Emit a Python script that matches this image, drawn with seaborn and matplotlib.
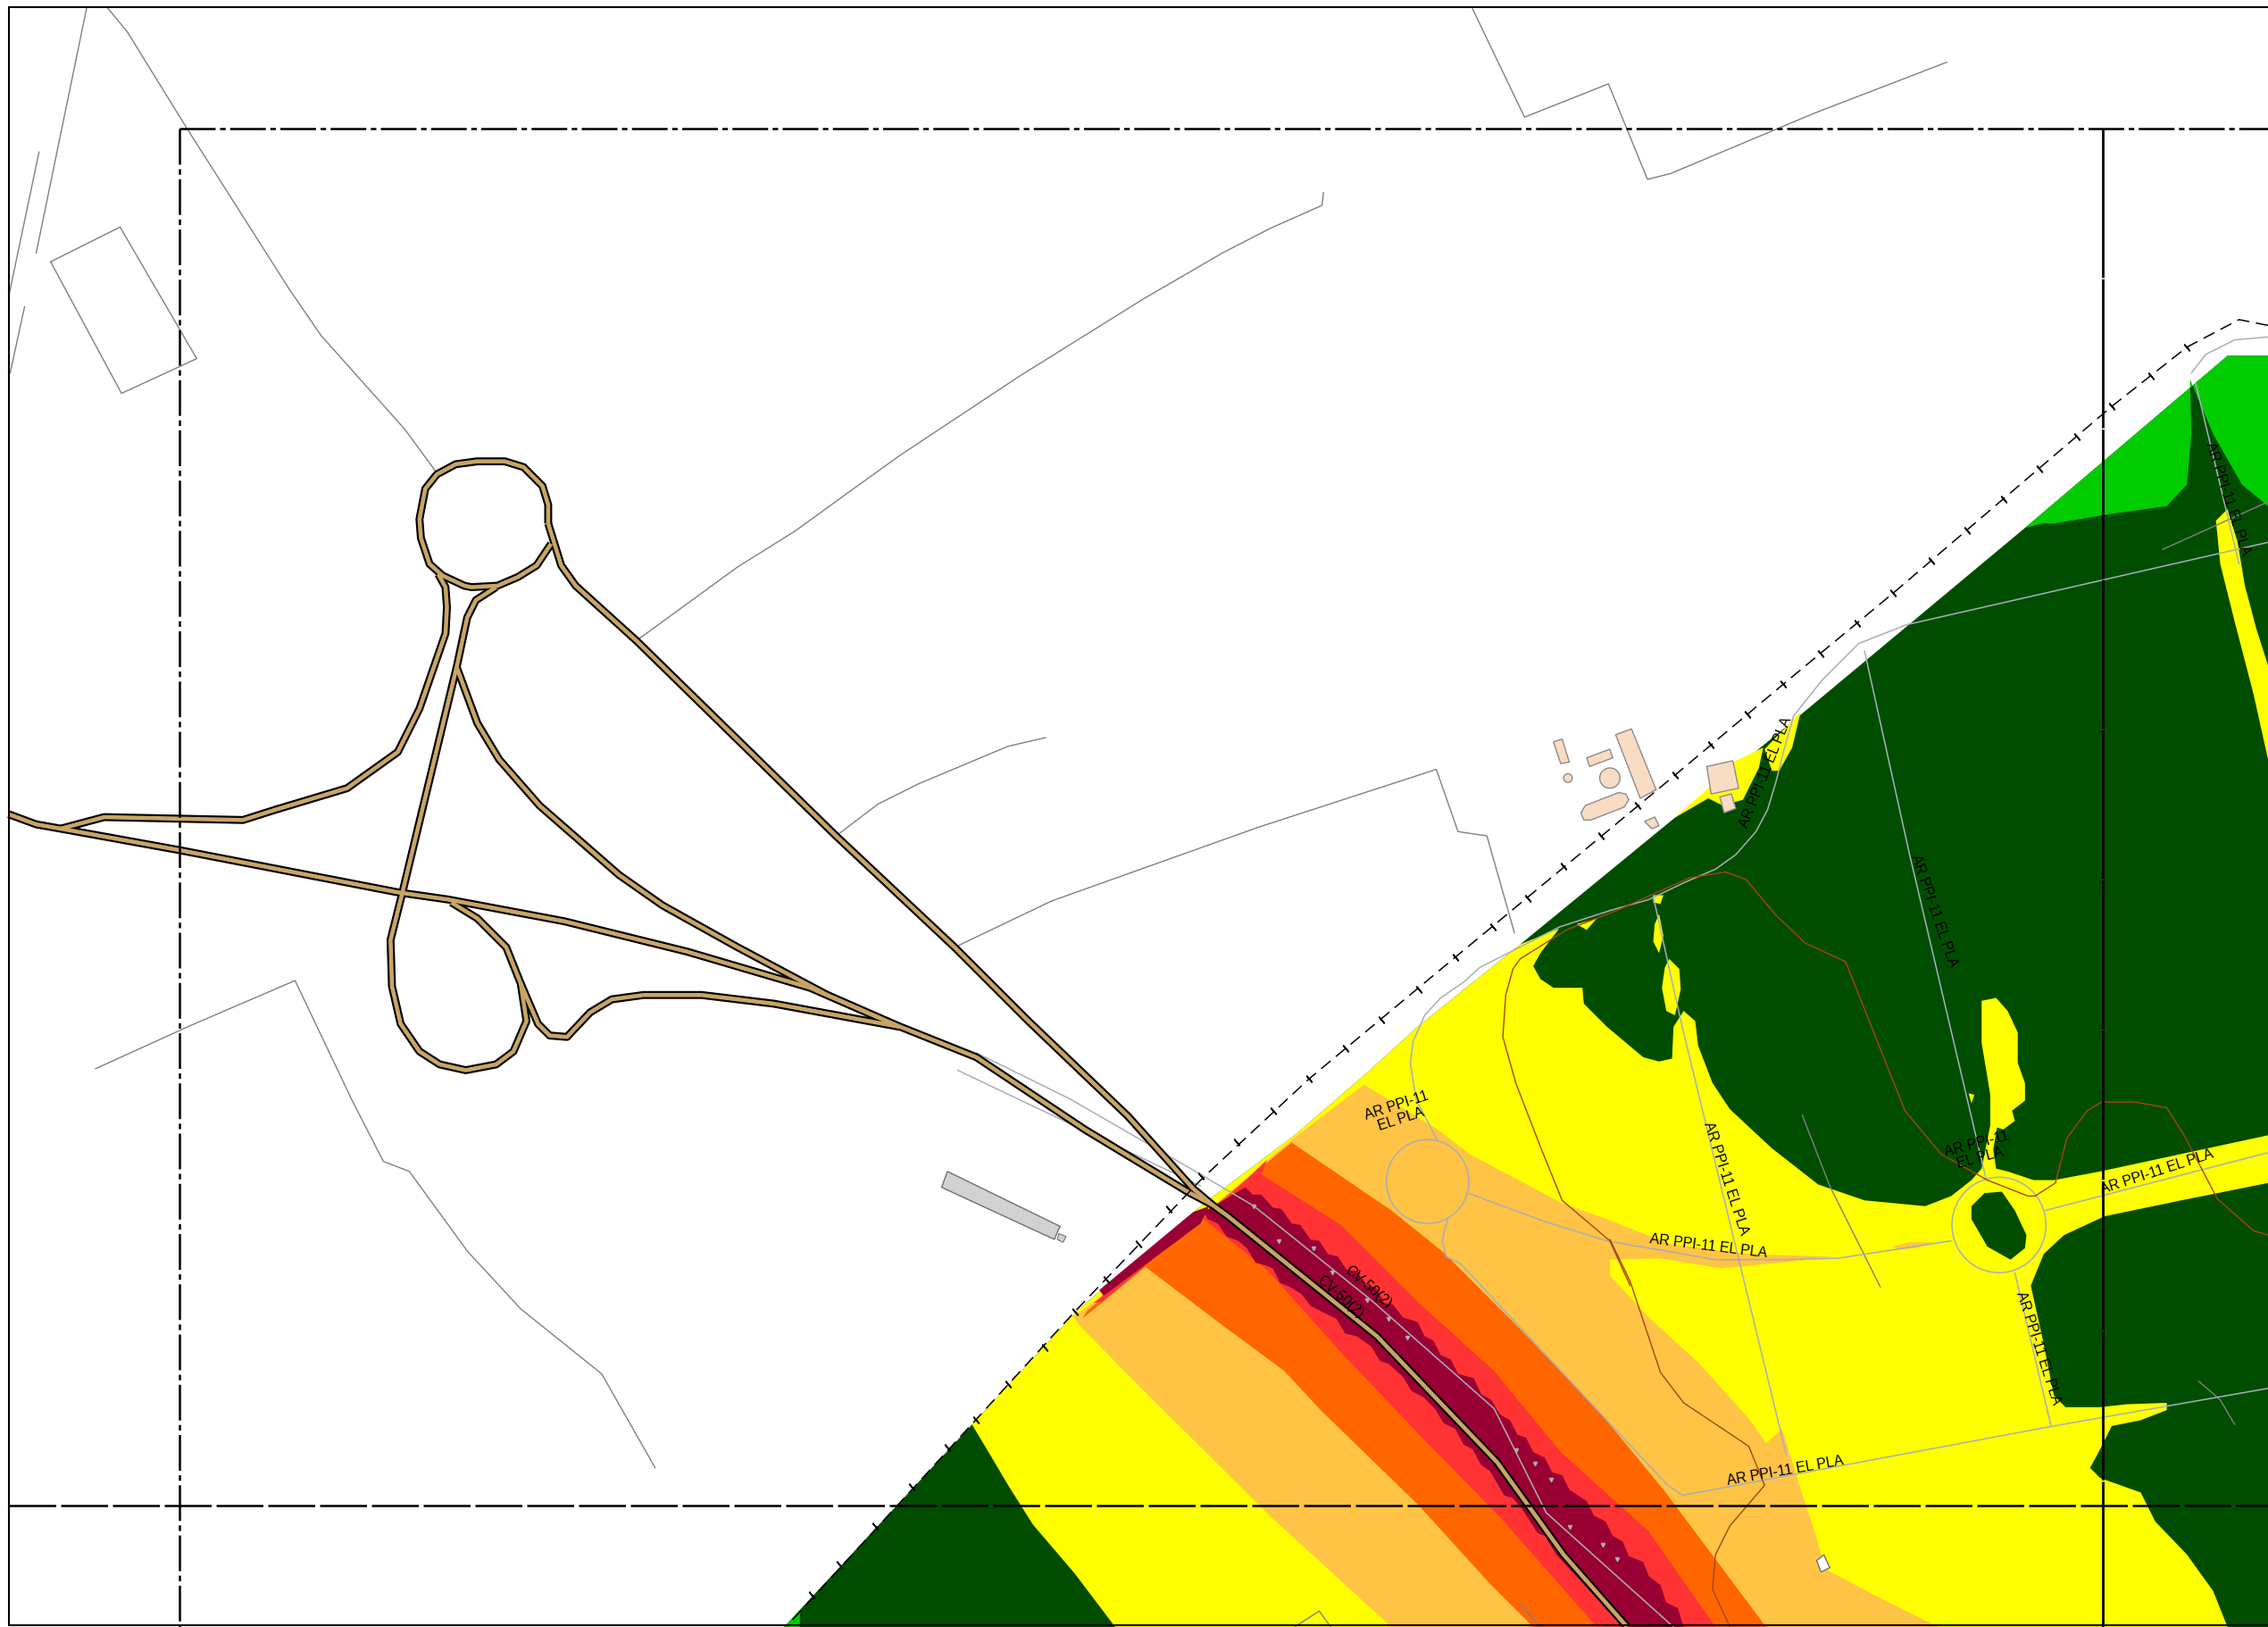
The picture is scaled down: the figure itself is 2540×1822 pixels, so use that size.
import matplotlib
matplotlib.use("Agg")
import matplotlib.pyplot as plt
from matplotlib.patches import Ellipse
import seaborn as sns

# all coordinates (1568 x 1125 sheet units)
dark_green_area = [(542, 1125), (672, 985), (746, 905), (835, 830), (895, 785), (946, 741), (980, 710), (1051, 653),
                   (1250, 490), (1400, 365), (1540, 246), (1568, 246), (1568, 1125)]
light_green_area = [(1400, 365), (1540, 246), (1568, 246), (1568, 350), (1550, 335), (1530, 300), (1514, 262),
                    (1515, 300), (1512, 335), (1498, 350), (1455, 356), (1420, 362), (1412, 362)]
light_green_corner = [(542, 1125), (553, 1114), (553, 1125)]
yellow_area = [(1051, 653), (1078, 642), (1065, 659), (1060, 668), (1065, 677), (1074, 683), (1094, 683), (1095, 694),
               (1111, 710), (1136, 731), (1147, 734), (1156, 732), (1157, 710), (1164, 699), (1172, 706), (1174, 723),
               (1184, 749), (1196, 767), (1225, 794), (1257, 819), (1289, 830), (1331, 834), (1349, 827), (1363, 816),
               (1370, 808), (1376, 778), (1381, 778), (1378, 795), (1380, 808), (1388, 810), (1406, 816), (1420, 816),
               (1452, 810), (1568, 785), (1568, 818), (1508, 830), (1455, 841), (1427, 854), (1413, 867), (1404, 889),
               (1412, 925), (1420, 965), (1428, 973), (1452, 973), (1470, 971), (1498, 970), (1498, 975), (1480, 982),
               (1460, 986), (1452, 1002), (1445, 1015), (1452, 1022), (1480, 1032), (1490, 1052), (1512, 1075),
               (1530, 1100), (1540, 1125), (771, 1125), (743, 1088), (714, 1054), (697, 1027), (684, 1005), (672, 985),
               (746, 905), (835, 830), (895, 785), (946, 741), (980, 710)]
roundabout_island = [(1363, 834), (1372, 825), (1384, 824), (1393, 837), (1401, 854), (1400, 863), (1390, 871),
                     (1374, 862), (1363, 843)]
yellow_patches = [
    [(1245, 492), (1239, 517), (1230, 533), (1225, 533), (1220, 518)],
    [(1157, 566), (1181, 545), (1200, 526), (1219, 517), (1216, 531), (1205, 553), (1191, 557), (1181, 552)],
    [(1143, 619), (1150, 619), (1148, 625), (1143, 624)],
    [(1147, 632), (1150, 647), (1147, 659), (1143, 651), (1144, 639)],
    [(1154, 663), (1161, 670), (1162, 684), (1158, 702), (1152, 699), (1149, 683), (1151, 669)],
    [(1104, 635), (1097, 643), (1090, 639)],
    [(1361, 756), (1365, 757), (1363, 763)],
    [(1380, 690), (1388, 699), (1395, 714), (1395, 735), (1400, 749), (1400, 761), (1391, 768), (1393, 775),
     (1385, 781), (1376, 778), (1376, 757), (1370, 721), (1370, 692)],
    [(1532, 360), (1540, 352), (1547, 375), (1552, 405), (1560, 435), (1568, 460), (1568, 525), (1558, 480),
     (1545, 430), (1535, 390)],
]
light_orange_area = [(943, 750), (994, 781), (1016, 798), (1048, 815), (1080, 832), (1111, 843), (1154, 860),
                     (1207, 867), (1267, 869), (1232, 873), (1190, 877), (1147, 870), (1113, 871), (1113, 882),
                     (1140, 911), (1175, 943), (1210, 982), (1221, 998), (1232, 988), (1245, 1030), (1255, 1060),
                     (1262, 1085), (1300, 1105), (1340, 1125), (962, 1125), (881, 1051), (785, 956), (746, 916),
                     (742, 910), (750, 905), (840, 833), (893, 788)]
light_orange_sliver = [(1308, 862), (1320, 859), (1336, 859), (1325, 863), (1312, 864)]
orange_area = [(893, 790), (962, 837), (998, 866), (1051, 919), (1104, 974), (1150, 1030), (1221, 1125), (1060, 1125),
               (1030, 1095), (981, 1041), (913, 975), (888, 948), (842, 914), (792, 876), (748, 912), (752, 906),
               (838, 835)]
red_area = [(876, 802), (872, 812), (927, 847), (980, 900), (1033, 948), (1079, 1004), (1140, 1059), (1186, 1125),
            (1104, 1125), (1037, 1049), (987, 998), (927, 935), (877, 879), (831, 842), (762, 900), (756, 901),
            (840, 836)]
dark_red_area = [(861, 821), (866, 826), (872, 826), (880, 835), (886, 836), (893, 846), (899, 847), (906, 857),
                 (912, 858), (918, 867), (925, 869), (931, 878), (938, 879), (945, 889), (951, 890), (957, 901),
                 (963, 902), (970, 911), (980, 914), (985, 924), (991, 927), (996, 937), (1003, 940), (1008, 950),
                 (1019, 953), (1024, 964), (1031, 968), (1037, 978), (1044, 982), (1049, 992), (1055, 994), (1060, 1004),
                 (1068, 1008), (1073, 1018), (1080, 1020), (1085, 1030), (1097, 1038), (1102, 1048), (1110, 1052),
                 (1115, 1062), (1122, 1066), (1126, 1076), (1136, 1080), (1140, 1090), (1148, 1096), (1152, 1108),
                 (1160, 1112), (1164, 1125), (1122, 1125), (1076, 1075), (1068, 1062), (1063, 1060), (1052, 1043),
                 (1046, 1036), (1040, 1034), (1030, 1017), (1024, 1013), (1018, 1002), (1012, 999), (1006, 988),
                 (998, 984), (992, 974), (984, 966), (976, 962), (970, 952), (960, 943), (954, 941), (948, 931),
                 (938, 924), (930, 922), (924, 912), (914, 907), (906, 903), (900, 895), (892, 890), (885, 887),
                 (880, 877), (875, 875), (868, 873), (862, 863), (856, 858), (848, 855), (842, 846), (835, 843),
                 (832, 838)]
dark_red_strip = [(836, 834), (825, 838), (760, 892), (763, 896), (830, 846)]

road_main = [(379, 362), (388, 391), (398, 405), (440, 443), (578, 578), (660, 655), (711, 706), (780, 772), (825, 822),
             (838, 833), (849, 841), (952, 924), (1035, 1011), (1081, 1075), (1125, 1125)]
road_ring = [(381, 376), (371, 391), (358, 399), (344, 405), (326, 406), (321, 405), (306, 398), (297, 390), (291, 372),
             (290, 359), (294, 338), (302, 328), (315, 321), (330, 319), (349, 319), (362, 323), (375, 336), (379, 349),
             (379, 362)]
road_west_ramp = [(303, 397), (308, 406), (309, 420), (308, 438), (290, 490), (275, 520), (240, 545), (190, 560),
                  (168, 567), (72, 565), (42, 573)]
road_loop = [(343, 406), (329, 415), (323, 427), (316, 460), (278, 618), (270, 650), (271, 682), (277, 708), (290, 727),
             (304, 736), (322, 740), (343, 736), (355, 727), (364, 706), (360, 680), (350, 655), (330, 635), (312, 624)]
road_inner = [(316, 462), (330, 500), (345, 525), (373, 557), (428, 605), (458, 626), (510, 655), (572, 688), (622, 710)]
road_west = [(6, 563), (25, 570), (42, 573), (125, 588), (275, 617), (310, 622), (390, 637), (475, 658), (560, 683),
             (620, 709), (675, 731), (750, 781), (821, 824), (838, 833)]
road_south_ramp = [(360, 680), (372, 708), (380, 716), (392, 717), (408, 700), (423, 691), (445, 688), (485, 688),
                   (535, 694), (622, 710)]

plot_lines = [
    [(60, 5), (25, 175)],
    [(27, 105), (6, 205)],
    [(17, 212), (7, 258)],
    [(35, 181), (83, 157), (136, 248), (84, 272), (35, 181)],
    [(74, 5), (88, 22), (130, 90), (200, 200), (222, 232), (280, 297), (302, 327)],
    [(440, 443), (510, 392), (550, 367), (590, 338), (622, 315), (705, 260), (790, 207), (845, 175), (878, 158),
     (914, 142), (915, 133)],
    [(1018, 6), (1054, 81), (1112, 58), (1139, 124), (1155, 120), (1255, 78), (1346, 43)],
    [(578, 578), (607, 556), (635, 542), (697, 516), (723, 510)],
    [(658, 656), (727, 623), (870, 572), (993, 532), (1008, 575), (1028, 578), (1047, 645)],
    [(66, 739), (132, 709), (204, 678), (243, 760), (265, 803), (283, 810), (323, 865), (360, 905), (416, 950),
     (453, 1015)],
    [(1246, 771), (1265, 820), (1300, 890)],
    [(1495, 380), (1568, 347)],
    [(1520, 955), (1535, 968), (1545, 985)],
    [(1051, 1109), (1065, 1125)],
    [(895, 1125), (912, 1114), (920, 1125)],
]
utility_lines = [
    [(662, 740), (725, 770), (830, 820)],
    [(675, 728), (740, 760), (830, 812), (867, 834), (948, 899), (1033, 974), (1069, 1046), (1157, 1125)],
    [(1318, 432), (1568, 375)],
    [(1289, 450), (1320, 590), (1373, 815)],
    [(1318, 432), (1285, 445), (1260, 470), (1240, 495), (1233, 520), (1228, 540), (1222, 560), (1214, 575), (1200, 591),
     (1186, 601), (1165, 610), (1140, 622), (1115, 629), (1078, 641), (1023, 669), (1012, 679), (996, 690), (985, 702),
     (977, 720), (975, 735), (979, 760), (994, 789)],
    [(1015, 825), (1069, 845), (1111, 858), (1186, 871), (1234, 871), (1271, 870), (1349, 858)],
    [(1414, 837), (1568, 797)],
    [(1143, 620), (1163, 710), (1235, 1006)],
    [(1568, 960), (1420, 986), (1163, 1034), (1152, 1026), (1010, 874), (1000, 869), (997, 858), (1001, 842)],
    [(1393, 880), (1418, 986)],
    [(1518, 265), (1548, 390)],
    [(1515, 258), (1525, 245), (1545, 235), (1568, 233)],
]
brown_lines = [
    [(1127, 889), (1113, 858), (1080, 830), (1065, 793), (1048, 749), (1039, 717), (1041, 688), (1046, 670), (1051, 663),
     (1083, 643), (1119, 629), (1168, 607), (1193, 603), (1207, 608), (1228, 633), (1248, 652), (1276, 665), (1317, 768),
     (1342, 798), (1374, 816), (1402, 827), (1407, 827), (1421, 818), (1429, 787), (1443, 768), (1453, 762), (1476, 762),
     (1498, 766), (1510, 785), (1533, 829), (1558, 851), (1568, 854)],
    [(1113, 857), (1127, 886), (1148, 949), (1164, 970), (1209, 1000), (1220, 1027), (1196, 1055), (1186, 1075),
     (1184, 1099), (1196, 1125)],
]
railway = [(548, 1120), (679, 977), (743, 907), (830, 816), (905, 746), (1006, 662), (1158, 536), (1233, 473),
           (1309, 410), (1385, 345), (1460, 281), (1512, 240), (1548, 221), (1568, 225)]
railway_ticks_x = [561, 580, 605, 630, 655, 675, 697, 722, 743, 765, 787, 808, 830, 855, 880, 905, 930, 955, 981, 1006,
                   1032, 1056, 1081, 1107, 1132, 1158, 1183, 1208, 1233, 1259, 1284, 1309, 1335, 1360, 1385, 1410, 1436,
                   1460, 1487, 1512]
railway_ticks_y = [1103, 1082, 1055, 1028, 1001, 982, 957, 932, 907, 885, 860, 836, 813, 790, 768, 746, 725, 705, 684,
                   662, 641, 621, 599, 578, 557, 536, 515, 494, 473, 452, 431, 410, 388, 367, 345, 324, 302, 281, 260,
                   240]
centre_marks_x = [867, 884, 908, 921, 945, 960, 973, 1048, 1061, 1072, 1085, 1108, 1118]
centre_marks_y = [834, 858, 863, 880, 899, 912, 925, 1003, 1012, 1023, 1056, 1068, 1078]

buildings = [
    [(1074, 513), (1080, 511), (1085, 527), (1079, 528)],
    [(1097, 524), (1113, 518), (1115, 524), (1099, 530)],
    [(1117, 508), (1128, 504), (1145, 546), (1134, 552)],
    [(1096, 557), (1119, 548), (1124, 549), (1126, 553), (1123, 558), (1100, 567), (1095, 567), (1093, 562)],
    [(1180, 530), (1198, 526), (1202, 545), (1183, 549)],
    [(1189, 551), (1197, 549), (1200, 559), (1192, 562)],
    [(1137, 568), (1144, 565), (1147, 571), (1142, 573)],
]
round_buildings = [(1113, 538, 14, 14), (1084, 538, 6, 6)]
grey_shed = [(655, 810), (733, 848), (731, 852), (729, 857), (651, 821)]
shed_tail = [(732, 853), (737, 855), (735, 859), (731, 857)]
white_hut = [(1256, 1079), (1261, 1075), (1265, 1084), (1259, 1087)]
roundabouts = [(987, 817, 57, 58), (1382, 847, 65, 66)]

labels = ["AR PPI-11 EL PLA"] * 8 + ["AR PPI-11\nEL PLA"] * 2 + ["CV-50(2)"] * 2
labels_x = [1181, 1234, 1193, 1337, 1221, 1409, 1491, 1540, 967, 1368, 946, 927]
labels_y = [862, 1017, 815, 630, 534, 932, 810, 345, 769, 796, 890, 897]
labels_rot = [-7, 10, -72, -71, 68, -72, 18, -72, 18, 15, -41, -41]

YELLOW = "#FFFF00"
DARK_GREEN = "#004D00"
LIGHT_GREEN = "#00CC00"
LIGHT_ORANGE = "#FFC445"
ORANGE = "#FF6600"
RED = "#FF3333"
DARK_RED = "#990033"
ROAD = "#C8A566"
GREY = "#808080"
UTILITY = "#A9AEB8"
BROWN = "#A8440F"

sns.set_theme(style="white")
plt.rcParams["font.family"] = ["Liberation Sans", "DejaVu Sans"]

fig = plt.figure(figsize=(25.4, 18.22), dpi=100)
ax = fig.add_axes([0, 0, 1, 1])


def area(points, color, **kw):
    ax.fill([p[0] for p in points], [p[1] for p in points], color=color, lw=0, **kw)


def line(points, color, lw, **kw):
    sns.lineplot(x=[p[0] for p in points], y=[p[1] for p in points], sort=False, estimator=None,
                 color=color, linewidth=lw, ax=ax, legend=False, **kw)


area(dark_green_area, DARK_GREEN)
area(light_green_area, LIGHT_GREEN)
area(light_green_corner, LIGHT_GREEN)
area(yellow_area, YELLOW)
area(roundabout_island, DARK_GREEN)
for p in yellow_patches:
    area(p, YELLOW)
area(light_orange_area, LIGHT_ORANGE)
area(light_orange_sliver, LIGHT_ORANGE)
area(orange_area, ORANGE)
area(red_area, RED)
area(dark_red_area, DARK_RED)
area(dark_red_strip, DARK_RED)

for p in plot_lines:
    line(p, GREY, 1.0)
for p in utility_lines:
    line(p, UTILITY, 1.1)
for p in brown_lines:
    line(p, BROWN, 1.0)
for x, y, w, h in roundabouts:
    ax.add_patch(Ellipse((x, y), w, h, fill=False, edgecolor=UTILITY, linewidth=1.1))
ax.plot(centre_marks_x, centre_marks_y, ls="none", marker="v", ms=3, color=UTILITY)

for p in buildings:
    ax.fill([q[0] for q in p], [q[1] for q in p], facecolor="#F8DCC4", edgecolor="#8C8C8C", lw=1.0)
for x, y, w, h in round_buildings:
    ax.add_patch(Ellipse((x, y), w, h, facecolor="#F8DCC4", edgecolor="#8C8C8C", linewidth=1.0))
ax.fill([q[0] for q in grey_shed], [q[1] for q in grey_shed], facecolor="#D2D2D2", edgecolor="#707070", lw=1.0)
ax.fill([q[0] for q in shed_tail], [q[1] for q in shed_tail], facecolor="#D2D2D2", edgecolor="#707070", lw=0.8)
ax.fill([q[0] for q in white_hut], [q[1] for q in white_hut], facecolor="#FFFFFF", edgecolor="#707070", lw=1.0)

# roads: thick black stroke, tan stroke on top
roads = [road_ring, road_west_ramp, road_loop, road_inner, road_south_ramp, road_west, road_main]
for p in roads:
    line(p, "black", 6.4, solid_joinstyle="round", solid_capstyle="butt")
for p in roads:
    line(p, ROAD, 3.3, solid_joinstyle="round", solid_capstyle="butt")

line(railway, "black", 1.1, linestyle=(0, (9, 5)))
ax.plot(railway_ticks_x, railway_ticks_y, ls="none", marker=(2, 2, 40), ms=7, mew=1.2, color="black")

# sheet frame and grid lines
line([(6, 5), (1568, 5)], "black", 1.5)
line([(6, 5), (6, 1124)], "black", 1.5)
line([(6, 1124), (1568, 1124)], "black", 1.5)
line([(124, 89), (1568, 89)], "black", 1.8, linestyle=(0, (16, 2, 2.5, 2)))
line([(124, 89), (124, 1125)], "black", 1.8, linestyle=(0, (16, 2, 2.5, 2)))
line([(1454, 89), (1454, 1125)], "black", 2.0, linestyle=(0, (60, 0.6)))
line([(6, 1041), (1568, 1041)], "black", 1.8, linestyle=(0, (21, 2.2)))

for t, x, y, r in zip(labels, labels_x, labels_y, labels_rot):
    ax.text(x, y, t, rotation=r, rotation_mode="anchor", ha="center", va="center", fontsize=11.5, color="black",
            linespacing=1.1)

ax.set_xlim(0, 1568)
ax.set_ylim(1125, 0)
ax.axis("off")
fig.savefig("out.png", dpi=100)
